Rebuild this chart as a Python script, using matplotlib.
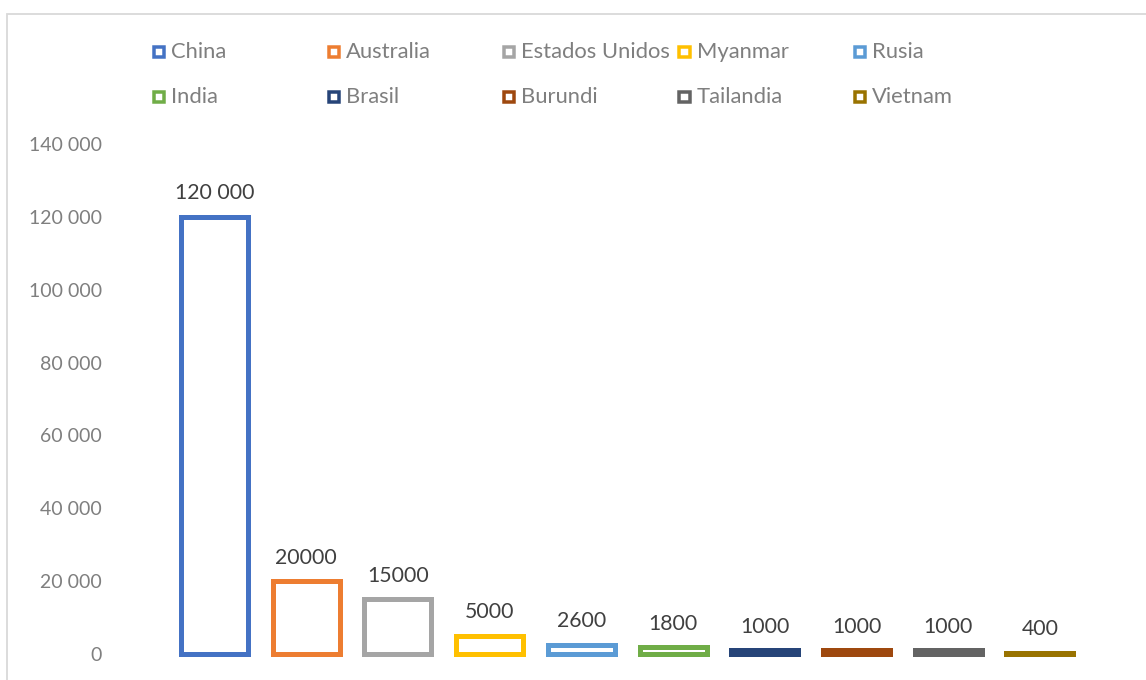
import matplotlib
matplotlib.use("Agg")
import matplotlib.pyplot as plt
from matplotlib.patches import Rectangle
from matplotlib.ticker import FuncFormatter

countries = ["China", "Australia", "Estados Unidos", "Myanmar", "Rusia",
             "India", "Brasil", "Burundi", "Tailandia", "Vietnam"]
values = [120000, 20000, 15000, 5000, 2600, 1800, 1000, 1000, 1000, 400]
value_labels = ["120 000", "20000", "15000", "5000", "2600", "1800",
                "1000", "1000", "1000", "400"]
colors = ["#4472C4", "#ED7D31", "#A5A5A5", "#FFC000", "#5B9BD5",
          "#70AD47", "#264478", "#9E480E", "#636363", "#997300"]
y_ticks = [0, 20000, 40000, 60000, 80000, 100000, 120000, 140000]

plt.rcParams['font.family'] = ['Lato', 'DejaVu Sans']

W, H = 1146, 680
fig = plt.figure(figsize=(W / 100, H / 100), dpi=100)
fig.patch.set_facecolor("white")

def px(x0, y0, x1, y1):
    return [x0 / W, 1 - y1 / H, (x1 - x0) / W, (y1 - y0) / H]

ax = fig.add_axes(px(160, 144, 1094, 654))
ax.set_facecolor("none")

xs = list(range(len(values)))
lw = 5 * 72 / 100
ax.bar(xs, values, width=0.73, facecolor="white", edgecolor=colors,
       linewidth=lw, clip_on=False, zorder=3)

for x, v, lab in zip(xs, values, value_labels):
    ax.annotate(lab, (x, v), xytext=(0, 17), textcoords="offset points",
                ha="center", va="center", fontsize=15.3, color="#404040")

ax.set_xlim(-0.594, 9.589)
ax.set_ylim(0, 140000)
ax.set_yticks(y_ticks)
ax.yaxis.set_major_formatter(FuncFormatter(lambda v, p: f"{int(v):,}".replace(",", " ")))
ax.tick_params(axis="y", length=0, pad=42, labelsize=14, labelcolor="#7f7f7f")
ax.set_xticks([])
for s in ax.spines.values():
    s.set_visible(False)

# chart area border (only top and left visible)
fig.add_artist(Rectangle((7 / W, -0.1), 1.2, (1 - 14 / H) + 0.1,
                         transform=fig.transFigure, facecolor="none",
                         edgecolor="#d9d9d9", linewidth=1.3))

# legend, laid out row by row
col_x = [152, 327, 502, 678, 853]
row_y = [52, 97]
for i, (name, c) in enumerate(zip(countries, colors)):
    r, k = divmod(i, 5)
    x0 = col_x[k]
    yc = row_y[r]
    s = 10.5
    fig.add_artist(Rectangle(((x0 + 1.5) / W, 1 - (yc + s / 2) / H), s / W, s / H,
                             transform=fig.transFigure, facecolor="white",
                             edgecolor=c, linewidth=3.5 * 72 / 100))
    fig.text((x0 + 19) / W, 1 - yc / H, name, ha="left", va="center",
             fontsize=15.8, color="#7f7f7f")

fig.savefig("out.png", dpi=100)
